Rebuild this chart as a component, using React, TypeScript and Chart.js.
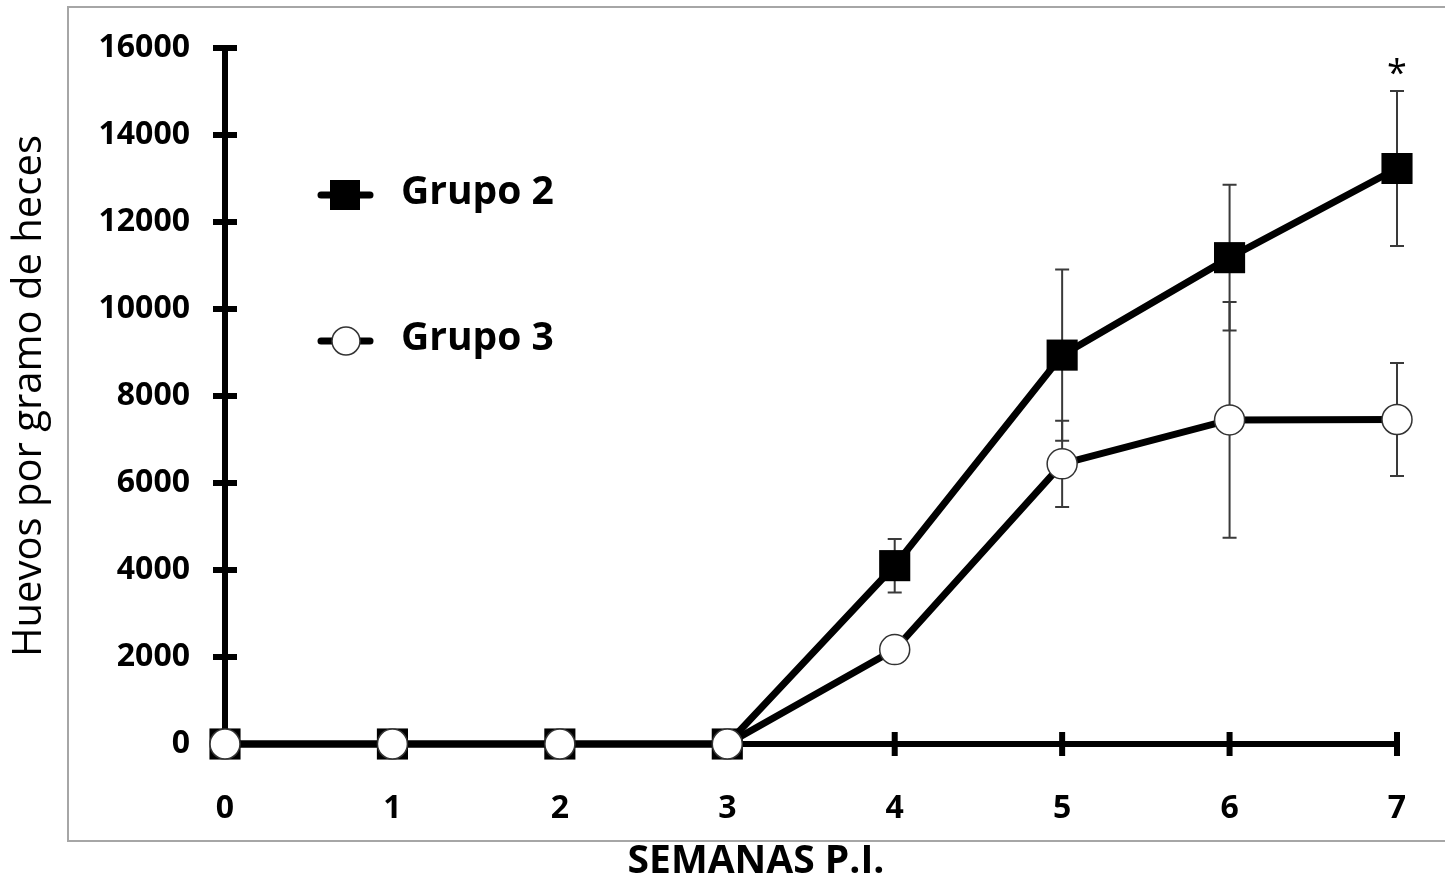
import React, { useEffect, useRef } from "react";
import { Chart, registerables } from "chart.js";

Chart.register(...registerables);

const weeks = [0, 1, 2, 3, 4, 5, 6, 7];
const grupo2 = [0, 0, 0, 0, 4100, 8940, 11180, 13230];
const grupo2Err = [0, 0, 0, 0, 615, 1970, 1675, 1780];
const grupo3 = [0, 0, 0, 0, 2170, 6440, 7450, 7460];
const grupo3Err = [0, 0, 0, 0, 0, 990, 2710, 1300];
const seriesLabels = ["Grupo 2", "Grupo 3"];
const yTitle = "Huevos por gramo de heces";
const xTitle = "SEMANAS P.I.";
const significance = "*";
const significantIndex = 7;

const FONT = "'Open Sans', 'Liberation Sans', sans-serif";

const frameAxesPlugin = {
  id: "frameAxes",
  beforeDraw(chart: any) {
    const { ctx } = chart;
    ctx.save();
    ctx.strokeStyle = "#a6a6a6";
    ctx.lineWidth = 2;
    ctx.strokeRect(68, 7, 1400, 834);
    ctx.restore();
  },
  beforeDatasetsDraw(chart: any) {
    const { ctx } = chart;
    const xs = chart.scales.x;
    const ys = chart.scales.y;
    const x0 = xs.getPixelForValue(0);
    const y0 = ys.getPixelForValue(0);
    ctx.save();
    ctx.strokeStyle = "#000";
    ctx.lineWidth = 6;
    ctx.lineCap = "butt";
    ctx.beginPath();
    ctx.moveTo(x0, ys.getPixelForValue(ys.max) - 3);
    ctx.lineTo(x0, y0);
    ctx.moveTo(x0, y0);
    ctx.lineTo(xs.getPixelForValue(xs.max) + 3, y0);
    ys.ticks.forEach((t: any) => {
      const py = ys.getPixelForValue(t.value);
      ctx.moveTo(x0 - 12, py);
      ctx.lineTo(x0 + 12, py);
    });
    xs.ticks.forEach((t: any) => {
      const px = xs.getPixelForValue(t.value);
      ctx.moveTo(px, y0 - 12);
      ctx.lineTo(px, y0 + 12);
    });
    ctx.stroke();

    // error bars
    ctx.strokeStyle = "#3a3a3a";
    ctx.lineWidth = 2;
    const drawErr = (vals: number[], errs: number[]) => {
      vals.forEach((v, i) => {
        const e = errs[i];
        if (!e) return;
        const px = xs.getPixelForValue(weeks[i]);
        const top = ys.getPixelForValue(v + e);
        const bot = ys.getPixelForValue(v - e);
        ctx.beginPath();
        ctx.moveTo(px, top);
        ctx.lineTo(px, bot);
        ctx.moveTo(px - 7, top);
        ctx.lineTo(px + 7, top);
        ctx.moveTo(px - 7, bot);
        ctx.lineTo(px + 7, bot);
        ctx.stroke();
      });
    };
    drawErr(grupo2, grupo2Err);
    drawErr(grupo3, grupo3Err);
    ctx.restore();
  },
  afterDraw(chart: any) {
    const { ctx } = chart;
    const xs = chart.scales.x;
    const ys = chart.scales.y;
    ctx.save();
    // asterisk
    ctx.fillStyle = "#000";
    ctx.font = `400 36px ${FONT}`;
    ctx.textAlign = "center";
    ctx.textBaseline = "alphabetic";
    const ax = xs.getPixelForValue(weeks[significantIndex]);
    const ay = ys.getPixelForValue(grupo2[significantIndex] + grupo2Err[significantIndex]) - 6;
    ctx.fillText(significance, ax, ay);

    // x title
    ctx.font = `bold 39px ${FONT}`;
    ctx.textBaseline = "middle";
    ctx.fillText(xTitle, 756, 862);

    // legend
    const items = [
      { y: 195, square: true },
      { y: 341, square: false },
    ];
    items.forEach((it, i) => {
      ctx.strokeStyle = "#000";
      ctx.lineWidth = 7;
      ctx.lineCap = "round";
      ctx.beginPath();
      ctx.moveTo(321, it.y);
      ctx.lineTo(370, it.y);
      ctx.stroke();
      if (it.square) {
        ctx.fillStyle = "#000";
        ctx.fillRect(345 - 15, it.y - 15, 30, 30);
      } else {
        ctx.fillStyle = "#fff";
        ctx.strokeStyle = "#333";
        ctx.lineWidth = 1.5;
        ctx.beginPath();
        ctx.arc(346, it.y, 14, 0, Math.PI * 2);
        ctx.fill();
        ctx.stroke();
      }
      ctx.fillStyle = "#000";
      ctx.font = `bold 39px ${FONT}`;
      ctx.textAlign = "left";
      ctx.textBaseline = "middle";
      ctx.fillText(seriesLabels[i], 401, it.y - 2);
    });
    ctx.restore();
  },
};

export default function App() {
  const ref = useRef<HTMLCanvasElement | null>(null);
  useEffect(() => {
    if (!ref.current) return;
    const chart = new Chart(ref.current, {
      type: "line",
      data: {
        datasets: [
          {
            label: seriesLabels[1],
            data: weeks.map((w, i) => ({ x: w, y: grupo3[i] })),
            borderColor: "#000",
            borderWidth: 7,
            pointStyle: "circle",
            pointRadius: 15,
            pointBackgroundColor: "#fff",
            pointBorderColor: "#333",
            pointBorderWidth: 1.5,
            tension: 0,
            clip: false as any,
            order: 0,
          },
          {
            label: seriesLabels[0],
            data: weeks.map((w, i) => ({ x: w, y: grupo2[i] })),
            borderColor: "#000",
            borderWidth: 7,
            pointStyle: "rect",
            pointRadius: 22,
            pointBackgroundColor: "#000",
            pointBorderColor: "#000",
            pointBorderWidth: 0,
            tension: 0,
            clip: false as any,
            order: 1,
          },
        ],
      },
      options: {
        animation: false,
        responsive: false,
        layout: { padding: { left: 0, right: 48, top: 48, bottom: 0 } },
        plugins: { legend: { display: false }, tooltip: { enabled: false } },
        scales: {
          x: {
            type: "linear",
            min: 0,
            max: 7,
            grid: { display: false, drawTicks: false },
            border: { display: false },
            ticks: {
              stepSize: 1,
              padding: 46,
              color: "#000",
              font: { family: FONT, size: 32, weight: "bold" },
            },
            afterFit: (s: any) => {
              s.height = 142;
              s.paddingLeft = 0;
              s.paddingRight = 0;
            },
          },
          y: {
            min: 0,
            max: 16000,
            grid: { display: false, drawTicks: false },
            border: { display: false },
            ticks: {
              stepSize: 2000,
              padding: 35,
              color: "#000",
              font: { family: FONT, size: 32, weight: "bold" },
              callback: (v: any) => String(v),
            },
            title: {
              display: true,
              text: yTitle,
              color: "#000",
              font: { family: FONT, size: 40, weight: "500" },
              padding: { top: 6, bottom: 0 },
            },
            afterFit: (s: any) => {
              s.width = 225;
              s.paddingTop = 0;
              s.paddingBottom = 0;
            },
          },
        },
      },
      plugins: [frameAxesPlugin],
    });
    return () => chart.destroy();
  }, []);
  return (
    <div style={{ position: "fixed", left: 0, top: 0, width: 1445, height: 886, background: "#fff" }}>
      <canvas ref={ref} width={1445} height={886} />
    </div>
  );
}
